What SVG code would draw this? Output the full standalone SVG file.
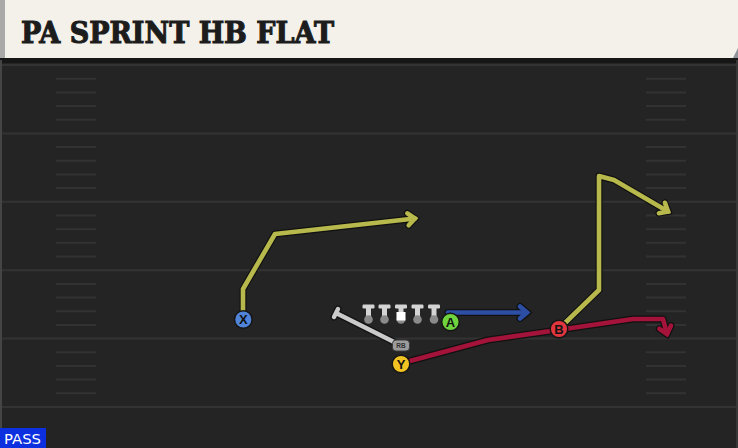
<svg xmlns="http://www.w3.org/2000/svg" width="738" height="448" viewBox="0 0 738 448">
<style>
.fl{stroke:#333333;stroke-width:2}
.hm{stroke:#323232;stroke-width:2}
.ol{fill:none;stroke:#111111;stroke-width:7;stroke-linejoin:round;stroke-linecap:round}
.rt{fill:none;stroke-width:4.6;stroke-linejoin:round;stroke-linecap:round}
.yg{stroke:#b8b94c}
.rd{stroke:#a3133a}
.bl{stroke:#2c4ea5}
.node circle{stroke:#151515;stroke-width:1.5}
.node text{font-family:"Liberation Sans",Arial,sans-serif;font-weight:bold;font-size:13px;fill:#111;text-anchor:middle}
.lm{fill:#d4d4d4}
.lc{fill:#8a8a8a}
</style>
<defs>
<marker id="mk" markerUnits="userSpaceOnUse" viewBox="-12 -10 16 20" refX="0" refY="0" markerWidth="16" markerHeight="20" orient="auto" overflow="visible">
<path d="M-7,-6 L0,0 L-7,6" fill="none" stroke="#111111" stroke-width="7" stroke-linecap="round"/>
</marker>
<marker id="my" markerUnits="userSpaceOnUse" viewBox="-12 -10 16 20" refX="0" refY="0" markerWidth="16" markerHeight="20" orient="auto" overflow="visible">
<path d="M-7,-6 L0,0 L-7,6" fill="none" stroke="#b8b94c" stroke-width="4.6" stroke-linecap="round"/>
</marker>
<marker id="mr" markerUnits="userSpaceOnUse" viewBox="-12 -10 16 20" refX="0" refY="0" markerWidth="16" markerHeight="20" orient="auto" overflow="visible">
<path d="M-7,-6 L0,0 L-7,6" fill="none" stroke="#a3133a" stroke-width="4.6" stroke-linecap="round"/>
</marker>
<marker id="mb" markerUnits="userSpaceOnUse" viewBox="-12 -10 16 20" refX="0" refY="0" markerWidth="16" markerHeight="20" orient="auto" overflow="visible">
<path d="M-7,-6 L0,0 L-7,6" fill="none" stroke="#2c4ea5" stroke-width="4.6" stroke-linecap="round"/>
</marker>
<g id="tee">
<rect x="-6" y="-15" width="12" height="4" rx="1.2" class="lm"/>
<rect x="-2.5" y="-12" width="5" height="11" class="lm"/>
<circle cx="0" cy="0" r="4.3" class="lc"/>
</g>
</defs>
<!-- field -->
<rect x="0" y="0" width="738" height="448" fill="#242424"/>
<rect x="0" y="58" width="738" height="5" fill="#161616"/>
<rect x="0" y="60" width="2" height="388" fill="#454545"/>
<rect x="736" y="60" width="2" height="388" fill="#383838"/>
<g id="field-lines">
<line class="fl" x1="2" y1="65" x2="736" y2="65"/>
<line class="fl" x1="2" y1="133.4" x2="736" y2="133.4"/>
<line class="fl" x1="2" y1="201.8" x2="736" y2="201.8"/>
<line class="fl" x1="2" y1="270.2" x2="736" y2="270.2"/>
<line class="fl" x1="2" y1="338.6" x2="736" y2="338.6"/>
<line class="fl" x1="2" y1="407" x2="736" y2="407"/>
</g>
<g id="hashes">
<path class="hm" d="M56,78.7h40M56,92.4h40M56,106h40M56,119.7h40M56,147.1h40M56,160.8h40M56,174.4h40M56,188.1h40M56,215.5h40M56,229.2h40M56,242.8h40M56,256.5h40M56,283.9h40M56,297.6h40M56,311.2h40M56,324.9h40M56,352.3h40M56,366h40M56,379.6h40M56,393.3h40"/>
<path class="hm" d="M646,78.7h40M646,92.4h40M646,106h40M646,119.7h40M646,147.1h40M646,160.8h40M646,174.4h40M646,188.1h40M646,215.5h40M646,229.2h40M646,242.8h40M646,256.5h40M646,283.9h40M646,297.6h40M646,311.2h40M646,324.9h40M646,352.3h40M646,366h40M646,379.6h40M646,393.3h40"/>
</g>
<!-- header -->
<g id="header">
<rect x="0" y="0" width="738" height="58" fill="#f4f1ea"/>
<rect x="0" y="0" width="5" height="58" fill="#a9aaa8"/>
<polygon points="733,58 738,48 738,58" fill="#8e939a"/>
<text x="21" y="42.5" font-family="'DejaVu Serif',serif" font-weight="bold" font-size="29" fill="#1c1c1c" stroke="#1c1c1c" stroke-width="1.1" textLength="313" lengthAdjust="spacingAndGlyphs">PA SPRINT HB FLAT</text>
</g>
<!-- connectors -->
<g id="connectors">
<path class="ol" d="M243,311 L243,289 L275,234 L415,218.5" marker-end="url(#mk)"/>
<path class="rt yg" d="M243,311 L243,289 L275,234 L415,218.5" marker-end="url(#my)"/>
<path class="ol" d="M565,323 L599,290 L599,176 L614,180 L668,211.5" marker-end="url(#mk)"/>
<path class="rt yg" d="M565,323 L599,290 L599,176 L614,180 L668,211.5" marker-end="url(#my)"/>
<path class="ol" d="M408,361.5 L488,340 L558,330 L633,319 L663,319 L667,334" marker-end="url(#mk)"/>
<path class="rt rd" d="M408,361.5 L488,340 L558,330 L633,319 L663,319 L667,334" marker-end="url(#mr)"/>
<path class="ol" d="M448,312.5 L527,312.5" marker-end="url(#mk)"/>
<path class="rt bl" d="M448,312.5 L527,312.5" marker-end="url(#mb)"/>
<!-- RB block path -->
<path d="M336,313 L400,345 M334,317 L338,309" fill="none" stroke="#121212" stroke-width="7" stroke-linecap="round"/>
<path d="M336,313 L400,345 M334,317 L338,309" fill="none" stroke="#cacaca" stroke-width="4.4" stroke-linecap="round"/>
</g>
<!-- offensive line -->
<g id="oline">
<use href="#tee" x="368.5" y="319.5"/>
<use href="#tee" x="384.5" y="319.5"/>
<g id="center">
<rect x="395" y="304.5" width="12" height="4" rx="1.2" class="lm"/>
<rect x="398.5" y="307.5" width="5" height="6" class="lm"/>
<circle cx="401" cy="319.5" r="4.3" class="lc"/>
<rect x="396.5" y="312" width="9" height="8.5" fill="#ffffff"/>
</g>
<use href="#tee" x="417.5" y="319.5"/>
<use href="#tee" x="434" y="319.5"/>
</g>
<g id="rb">
<rect x="392.5" y="340" width="17" height="11" rx="3.5" fill="#9c9c9c" stroke="#3a3a3a" stroke-width="1"/>
<text x="401" y="348" font-family="'Liberation Sans',Arial,sans-serif" font-size="6.5" font-weight="bold" fill="#333333" text-anchor="middle">RB</text>
</g>
<g id="node-x" class="node">
<circle cx="243.3" cy="319.5" r="8.8" fill="#4f84d9"/>
<text x="243.3" y="324.2">X</text>
</g>
<g id="node-a" class="node">
<circle cx="450.5" cy="322" r="8.8" fill="#6fd33e"/>
<text x="450.5" y="326.7">A</text>
</g>
<g id="node-b" class="node">
<circle cx="559" cy="329" r="8.8" fill="#e2363f"/>
<text x="559" y="333.7">B</text>
</g>
<g id="node-y" class="node">
<circle cx="401" cy="364" r="8.8" fill="#f1c322"/>
<text x="401" y="368.7">Y</text>
</g>
<g id="pass">
<rect x="0" y="428" width="46" height="20" fill="#0c2fe0"/>
<text x="4" y="444" font-family="'DejaVu Sans',sans-serif" font-size="14" fill="#ffffff" textLength="37" lengthAdjust="spacingAndGlyphs">PASS</text>
</g>
</svg>
